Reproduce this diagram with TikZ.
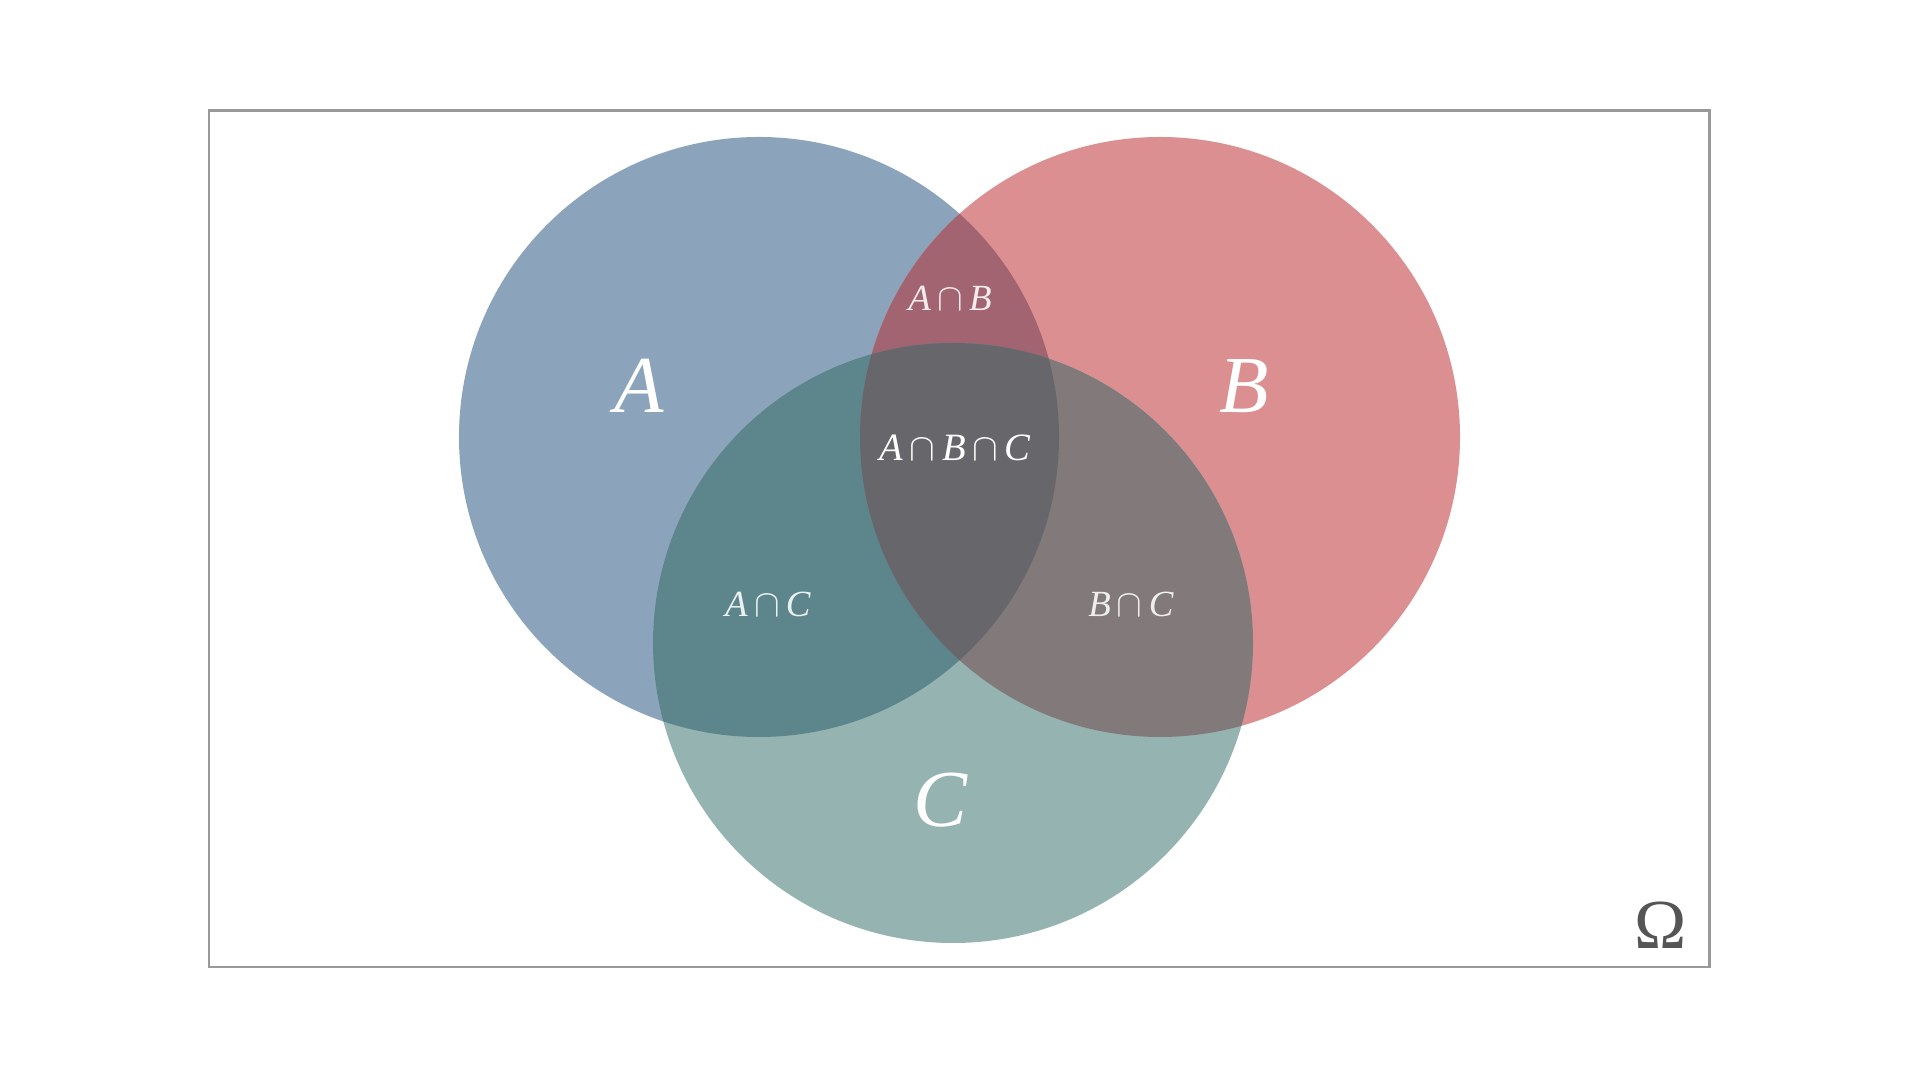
\documentclass[tikz,border=0pt]{standalone}
\usepackage{fontspec}
\setmainfont{Liberation Serif}
\definecolor{cA}{HTML}{8BA3BB}
\definecolor{cB}{HTML}{DB8F91}
\definecolor{cC}{HTML}{95B3B1}
\definecolor{cAB}{HTML}{A26470}
\definecolor{cAC}{HTML}{5C868C}
\definecolor{cBC}{HTML}{827A7A}
\definecolor{cABC}{HTML}{67666B}
\definecolor{frame}{HTML}{999999}
\definecolor{omega}{HTML}{555555}
\newcommand{\icap}{\,$\cap$\,}
\tikzset{
  biglabel/.style={text=white, font=\fontsize{23}{23}\selectfont\itshape},
  midlabel/.style={text=white, text opacity=0.88, font=\fontsize{10.5}{10.5}\selectfont},
}
\begin{document}
\begin{tikzpicture}
\useasboundingbox (0,0) rectangle (19.2,10.8);
\node[draw=frame, line width=0.85pt, minimum width=15cm, minimum height=8.56cm, inner sep=0pt] (omegabox) at (9.59,5.41) {};
% circles
\fill[cA] (7.59,6.43) circle (3.0);
\fill[cB] (11.60,6.43) circle (3.0);
\fill[cC] (9.53,4.37) circle (3.0);
\begin{scope}
  \clip (7.59,6.43) circle (3.0);
  \fill[cAB] (11.60,6.43) circle (3.0);
  \fill[cAC] (9.53,4.37) circle (3.0);
\end{scope}
\begin{scope}
  \clip (11.60,6.43) circle (3.0);
  \fill[cBC] (9.53,4.37) circle (3.0);
\end{scope}
\begin{scope}
  \clip (7.59,6.43) circle (3.0);
  \clip (11.60,6.43) circle (3.0);
  \fill[cABC] (9.53,4.37) circle (3.0);
\end{scope}
% labels
\node[biglabel] (la) at (6.39,6.94) {A};
\node[biglabel] (lb) at (12.44,6.94) {B};
\node[biglabel] (lc) at (9.40,2.80) {C};
\node[midlabel] (lab) at (9.50,7.82) {\textit{A}\icap\textit{B}};
\node[midlabel, text opacity=1, font=\fontsize{11}{11}\selectfont] (labc) at (9.55,6.32) {\textit{A}\icap\textit{B}\icap\textit{C}};
\node[midlabel] (lac) at (7.68,4.76) {\textit{A}\icap\textit{C}};
\node[midlabel] (lbc) at (11.31,4.76) {\textit{B}\icap\textit{C}};
\node[text=omega, font=\fontsize{20}{20}\selectfont] (lo) at (16.61,1.55) {Ω};
\end{tikzpicture}
\end{document}
